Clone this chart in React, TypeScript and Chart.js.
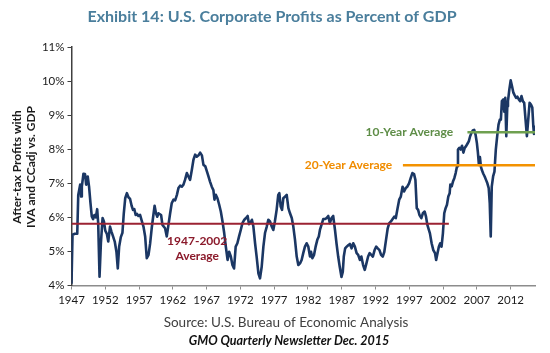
import React, { useEffect, useRef } from "react";
import { Chart, registerables } from "chart.js";
Chart.register(...registerables);

const chartTitle = "Exhibit 14: U.S. Corporate Profits as Percent of GDP";
const yTitle = ["After-tax Profits with", "IVA and CCadj vs. GDP"];
const sourceText = "Source: U.S. Bureau of Economic Analysis";
const creditText = "GMO Quarterly Newsletter Dec. 2015";

const years = [
  1947.0, 1947.15, 1947.5, 1947.85, 1948.0, 1948.28, 1948.43, 1948.53, 1948.77, 1949.0,
  1949.17, 1949.4, 1949.6, 1949.81, 1950.0, 1950.2, 1950.4, 1950.6, 1950.8, 1950.95,
  1951.15, 1951.35, 1951.6, 1951.8, 1952.0, 1952.24, 1952.44, 1952.7, 1952.9, 1953.15,
  1953.4, 1953.65, 1953.85, 1954.05, 1954.3, 1954.54, 1954.74, 1954.95, 1955.2, 1955.43,
  1955.67, 1955.9, 1956.1, 1956.3, 1956.5, 1956.7, 1956.9, 1957.15, 1957.4, 1957.65,
  1957.9, 1958.14, 1958.4, 1958.63, 1958.87, 1959.1, 1959.3, 1959.5, 1959.7, 1959.87,
  1960.26, 1960.46, 1960.85, 1961.1, 1961.35, 1961.6, 1961.84, 1962.1, 1962.34, 1962.6,
  1962.83, 1963.08, 1963.33, 1963.57, 1963.8, 1964.07, 1964.3, 1964.55, 1964.8, 1965.05,
  1965.3, 1965.54, 1965.8, 1966.04, 1966.3, 1966.53, 1966.8, 1967.04, 1967.27, 1967.5,
  1967.76, 1968.0, 1968.16, 1968.36, 1968.6, 1968.86, 1969.1, 1969.35, 1969.6, 1969.84,
  1970.1, 1970.33, 1970.58, 1970.82, 1971.06, 1971.3, 1971.55, 1971.8, 1972.05, 1972.3,
  1972.58, 1972.83, 1973.07, 1973.27, 1973.5, 1973.7, 1973.92, 1974.17, 1974.4, 1974.66,
  1974.9, 1975.15, 1975.4, 1975.64, 1975.9, 1976.13, 1976.38, 1976.6, 1976.87, 1977.1,
  1977.36, 1977.6, 1977.76, 1977.96, 1978.16, 1978.35, 1978.6, 1978.85, 1979.1, 1979.34,
  1979.6, 1979.83, 1980.08, 1980.33, 1980.57, 1980.82, 1981.06, 1981.3, 1981.55, 1981.8,
  1982.05, 1982.3, 1982.45, 1982.65, 1982.9, 1983.13, 1983.38, 1983.6, 1983.77, 1984.0,
  1984.26, 1984.5, 1984.75, 1985.0, 1985.24, 1985.48, 1985.73, 1986.0, 1986.22, 1986.47,
  1986.7, 1986.96, 1987.15, 1987.3, 1987.5, 1987.73, 1988.0, 1988.2, 1988.45, 1988.7,
  1988.94, 1989.2, 1989.43, 1989.68, 1989.9, 1990.16, 1990.4, 1990.65, 1990.9, 1991.13,
  1991.37, 1991.6, 1991.86, 1992.1, 1992.33, 1992.58, 1992.82, 1993.07, 1993.3, 1993.55,
  1993.8, 1994.03, 1994.28, 1994.53, 1994.77, 1995.0, 1995.26, 1995.5, 1995.74, 1996.0,
  1996.22, 1996.47, 1996.7, 1996.96, 1997.2, 1997.45, 1997.7, 1997.9, 1998.1, 1998.3,
  1998.5, 1998.78, 1999.0, 1999.27, 1999.47, 1999.67, 2000.05, 2000.3, 2000.55, 2000.8,
  2000.97, 2001.17, 2001.37, 2001.57, 2001.77, 2001.97, 2002.17, 2002.37, 2002.57, 2002.77,
  2002.97, 2003.07, 2003.27, 2003.46, 2003.66, 2003.86, 2004.06, 2004.2, 2004.4, 2004.6,
  2004.8, 2005.0, 2005.2, 2005.4, 2005.6, 2005.8, 2006.0, 2006.2, 2006.4, 2006.6,
  2006.8, 2007.0, 2007.15, 2007.3, 2007.45, 2007.6, 2007.75, 2007.95, 2008.15, 2008.35,
  2008.55, 2008.75, 2008.9, 2009.05, 2009.2, 2009.4, 2009.6, 2009.8, 2010.0, 2010.2,
  2010.4, 2010.55, 2010.7, 2010.9, 2011.05, 2011.2, 2011.35, 2011.5, 2011.6, 2011.8,
  2012.0, 2012.2, 2012.4, 2012.6, 2012.8, 2013.0, 2013.2, 2013.4, 2013.6, 2013.8,
  2014.0, 2014.2, 2014.4, 2014.6, 2014.8, 2015.0, 2015.2, 2015.35, 2015.45, 2015.6,
];

const profitPct = [
  4.05, 5.49, 5.52, 5.52, 6.66, 6.96, 6.61, 6.9, 7.28, 7.27,
  6.96, 7.2, 6.9, 6.42, 6.03, 5.95, 6.07, 6.0, 6.24, 5.83,
  4.26, 5.24, 5.98, 5.88, 5.61, 5.51, 5.29, 5.73, 5.59, 5.44,
  5.29, 4.99, 4.5, 5.14, 5.42, 5.55, 6.12, 6.56, 6.71, 6.59,
  6.54, 6.34, 6.22, 6.24, 6.07, 6.1, 6.04, 6.07, 5.9, 5.73,
  5.44, 4.8, 4.9, 5.22, 5.68, 6.04, 6.34, 6.12, 6.02, 6.12,
  6.07, 5.78, 5.68, 5.44, 5.78, 6.12, 6.42, 6.52, 6.5, 6.66,
  6.86, 6.93, 6.9, 6.96, 7.1, 7.3, 7.2, 7.1, 7.38, 7.69,
  7.84, 7.78, 7.82, 7.9, 7.82, 7.54, 7.5, 7.35, 7.2, 7.05,
  6.9, 6.8, 6.52, 6.66, 6.56, 6.37, 6.17, 5.88, 5.54, 5.14,
  4.75, 4.99, 4.85, 4.6, 4.5, 5.14, 5.24, 5.44, 5.63, 5.83,
  5.93, 5.98, 6.04, 5.8, 5.85, 5.93, 5.73, 5.24, 4.85, 4.36,
  4.21, 4.55, 5.14, 5.54, 5.73, 5.93, 5.88, 5.75, 5.63, 5.88,
  6.22, 6.66, 6.71, 6.32, 6.22, 6.56, 6.61, 6.66, 6.27, 6.12,
  5.98, 5.73, 5.34, 4.85, 4.6, 4.65, 4.75, 4.95, 5.14, 5.24,
  5.14, 4.85, 4.99, 4.8, 4.9, 5.14, 5.34, 5.44, 5.63, 5.78,
  5.95, 5.95, 5.98, 6.04, 5.83, 5.98, 6.04, 5.63, 5.24, 4.85,
  4.55, 4.25, 4.4, 4.85, 5.09, 5.14, 5.19, 5.22, 5.09, 5.24,
  5.14, 4.95, 4.9, 4.75, 4.85, 4.6, 4.46, 4.65, 4.85, 4.95,
  4.9, 4.85, 5.04, 5.14, 5.09, 5.04, 4.9, 4.85, 4.99, 5.34,
  5.68, 5.83, 5.88, 5.95, 6.02, 5.98, 6.27, 6.52, 6.61, 6.9,
  6.76, 6.86, 6.9, 7.0, 7.15, 7.3, 7.27, 7.1, 6.27, 6.22,
  6.07, 5.98, 6.12, 6.17, 6.02, 5.78, 5.53, 5.24, 5.04, 4.95,
  4.75, 4.95, 5.14, 5.24, 5.14, 5.53, 6.12, 6.27, 6.37, 6.61,
  6.71, 6.96, 6.91, 7.05, 7.15, 7.3, 7.5, 7.99, 8.04, 7.99,
  8.1, 7.9, 8.04, 8.09, 8.16, 8.23, 8.38, 8.48, 8.55, 8.57,
  8.43, 8.18, 7.9, 7.54, 7.77, 7.48, 7.38, 7.28, 7.2, 7.1,
  7.0, 6.86, 6.42, 5.44, 6.9, 7.2, 7.34, 7.99, 8.38, 8.72,
  8.87, 8.87, 9.41, 9.46, 9.1, 9.51, 8.38, 9.26, 9.41, 9.75,
  10.02, 9.85, 9.66, 9.58, 9.51, 9.54, 9.46, 9.41, 9.56, 9.41,
  9.36, 8.87, 8.38, 8.87, 9.36, 9.31, 9.22, 8.67, 8.45, 8.5,
];

const xTickYears = [1947, 1952, 1957, 1962, 1967, 1972, 1977, 1982, 1987, 1992, 1997, 2002, 2007, 2012];
const yMin = 4;
const yMax = 11;

const avgLongValue = 5.81;
const avgLongSpan = [1947, 2002.85];
const avgLongLabel = ["1947-2002", "Average"];
const avg20Value = 7.53;
const avg20Span = [1996.05, 2015.6];
const avg20Label = "20-Year Average";
const avg10Value = 8.5;
const avg10Span = [2005.6, 2015.6];
const avg10Label = "10-Year Average";

const FONT = "Lato, 'Open Sans', sans-serif";

const textPlugin = {
  id: "extraTexts",
  afterDraw(chart: any) {
    const ctx = chart.ctx;
    const xs = chart.scales.x;
    const ys = chart.scales.y;
    ctx.save();
    ctx.textAlign = "center";
    ctx.textBaseline = "middle";
    // Title
    ctx.font = `bold 16px ${FONT}`;
    ctx.fillStyle = "#4a7e9c";
    ctx.fillText(chartTitle, 272, 17);
    // Source
    ctx.font = `13.5px ${FONT}`;
    ctx.fillStyle = "#404040";
    ctx.fillText(sourceText, 286, 323);
    ctx.font = `italic bold 12.5px ${FONT}`;
    ctx.fillStyle = "#111111";
    ctx.fillText(creditText, 289, 341);
    // Annotations
    ctx.font = `bold 12px ${FONT}`;
    ctx.fillStyle = "#8b1a2b";
    const lx = xs.getPixelForValue(1965.6);
    ctx.fillText(avgLongLabel[0], lx, ys.getPixelForValue(avgLongValue) + 17);
    ctx.fillText(avgLongLabel[1], lx, ys.getPixelForValue(avgLongValue) + 32);
    ctx.fillStyle = "#f08c00";
    ctx.fillText(avg20Label, xs.getPixelForValue(1988.0), ys.getPixelForValue(avg20Value));
    ctx.fillStyle = "#5e8d47";
    ctx.fillText(avg10Label, xs.getPixelForValue(1997.0), ys.getPixelForValue(avg10Value));
    // Y title
    ctx.translate(24, 167);
    ctx.rotate(-Math.PI / 2);
    ctx.font = `bold 12px ${FONT}`;
    ctx.fillStyle = "#1a1a1a";
    ctx.fillText(yTitle[0], 0, -7);
    ctx.fillText(yTitle[1], 0, 7);
    ctx.restore();
  },
};

export default function App() {
  const ref = useRef<HTMLCanvasElement>(null);
  useEffect(() => {
    document.body.style.margin = "0";
    const canvas = ref.current!;
    const chart = new Chart(canvas, {
      type: "line",
      data: {
        datasets: [
          {
            data: [
              { x: avgLongSpan[0], y: avgLongValue },
              { x: avgLongSpan[1], y: avgLongValue },
            ],
            borderColor: "#9b2232",
            borderWidth: 2,
            pointRadius: 0,
            order: 0,
          },
          {
            data: [
              { x: avg20Span[0], y: avg20Value },
              { x: avg20Span[1], y: avg20Value },
            ],
            borderColor: "#f39200",
            borderWidth: 2.5,
            pointRadius: 0,
            order: 0,
          },
          {
            data: [
              { x: avg10Span[0], y: avg10Value },
              { x: avg10Span[1], y: avg10Value },
            ],
            borderColor: "#6fa050",
            borderWidth: 2.5,
            pointRadius: 0,
            order: 0,
          },
          {
            data: years.map((x, i) => ({ x, y: profitPct[i] })),
            borderColor: "#1b3764",
            borderWidth: 2.6,
            pointRadius: 0,
            tension: 0,
            borderJoinStyle: "round",
            order: 1,
          },
        ],
      },
      options: {
        animation: false,
        responsive: false,
        maintainAspectRatio: false,
        layout: { padding: { top: 47, right: 15, left: 0, bottom: 0 } },
        plugins: {
          legend: { display: false },
          title: { display: false },
          tooltip: { enabled: false },
        },
        scales: {
          x: {
            type: "linear",
            min: 1947,
            max: 2015.6,
            afterBuildTicks: (axis: any) => {
              axis.ticks = xTickYears.map((v) => ({ value: v }));
            },
            afterFit: (scale: any) => {
              scale.height = 67.5;
            },
            ticks: {
              autoSkip: false,
              maxRotation: 0,
              padding: 4,
              color: "#1a1a1a",
              font: { family: FONT, size: 11.5 },
              callback: (v: any) => String(v),
            },
            grid: {
              drawOnChartArea: false,
              drawTicks: true,
              tickLength: 4,
              color: "#8c8c8c",
            },
            border: { display: true, color: "#8c8c8c", width: 1.5 },
          },
          y: {
            min: yMin,
            max: yMax,
            afterFit: (scale: any) => {
              scale.width = 71.5;
            },
            ticks: {
              stepSize: 1,
              padding: 3,
              color: "#1a1a1a",
              font: { family: FONT, size: 11.5 },
              callback: (v: any) => v + "%",
            },
            grid: {
              drawOnChartArea: false,
              drawTicks: true,
              tickLength: 4,
              color: "#404040",
            },
            border: { display: true, color: "#404040", width: 1.5 },
          },
        },
      },
      plugins: [textPlugin],
    });
    return () => chart.destroy();
  }, []);
  return (
    <div style={{ width: 550, height: 353 }}>
      <canvas ref={ref} width={550} height={353} style={{ display: "block" }} />
    </div>
  );
}
